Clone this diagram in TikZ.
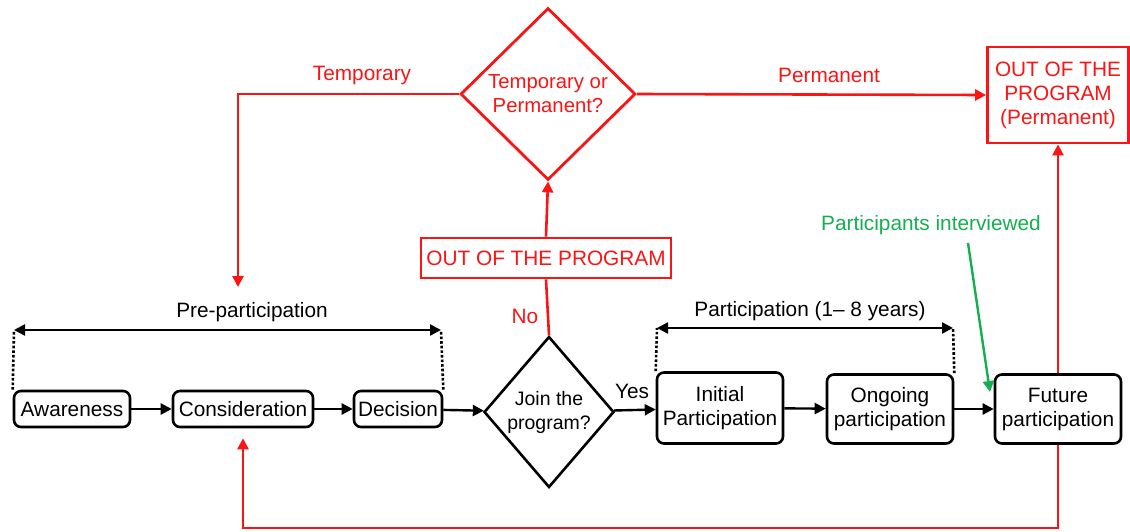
\documentclass[tikz,border=0pt]{standalone}
\usepackage{fontspec}
\setmainfont{Liberation Sans}
\usepackage{xcolor}
\usepackage{tikz}
\usetikzlibrary{arrows.meta,shapes.geometric,calc}
\definecolor{outred}{RGB}{250,20,20}
\definecolor{intgreen}{RGB}{20,175,80}
\tikzset{
  bx/.style  ={rectangle,rounded corners=7pt,draw,line width=2.6pt,inner sep=0pt,align=center,font=\fontsize{20.8}{24}\selectfont},
  dm/.style  ={diamond,draw,line width=2.6pt,inner sep=0pt,align=center,font=\fontsize{19.5}{24}\selectfont},
  rbx/.style ={rectangle,draw=outred,text=outred,line width=2.8pt,inner sep=0pt,align=center,font=\fontsize{20.8}{24}\selectfont},
  rdm/.style ={diamond,draw=outred,text=outred,line width=2.8pt,inner sep=0pt,align=center,font=\fontsize{20.3}{24}\selectfont},
  lbl/.style ={font=\fontsize{20.8}{24}\selectfont,inner sep=0pt},
  rlbl/.style={lbl,text=outred},
  ar/.style  ={-{Triangle[length=11pt,width=11pt]},line width=2.4pt},
  rar/.style ={ar,draw=outred,line width=2.6pt},
  gar/.style ={ar,draw=intgreen,line width=2.4pt},
  span/.style={{Triangle[length=11pt,width=11pt]}-{Triangle[length=11pt,width=11pt]},line width=2.4pt},
  tick/.style={dotted,line width=2.6pt},
}
\begin{document}
\begin{tikzpicture}[x=1pt,y=-1pt]
  \useasboundingbox (0,0) rectangle (1130,531);
  % main row
  \node[bx,minimum width=116pt,minimum height=36pt] (aw) at (72,409){Awareness};
  \node[bx,minimum width=140pt,minimum height=36pt] (con) at (243,409){Consideration};
  \node[bx,minimum width=88pt,minimum height=36pt] (dcs) at (398,409){Decision};
  \node[dm,minimum width=130pt,minimum height=151pt] (join) at (549,412){Join the\\program?};
  \node[bx,minimum width=126pt,minimum height=71pt] (ini) at (720,408){Initial\\Participation};
  \node[bx,minimum width=126pt,minimum height=69pt] (ong) at (890,409){Ongoing\\participation};
  \node[bx,minimum width=126pt,minimum height=69pt] (fut) at (1058,409){Future\\participation};
  \draw[ar] (aw) -- (con);
  \draw[ar] (con) -- (dcs);
  \draw[ar] (dcs) -- (join);
  \draw[ar] (join) -- (ini);
  \draw[ar] (ini) -- (ong);
  \draw[ar] (ong) -- (fut);
  \node[lbl] (yes) at (632,391){Yes};

  % spans
  \coordinate (p1) at (14,330);
  \coordinate (p2) at (441,330);
  \draw[tick] (aw.north west) -- (p1);
  \draw[tick] (dcs.north east) -- (p2);
  \draw[span] (p1) -- (p2);
  \node[lbl] (pre) at (252,312){Pre-participation};
  \coordinate (q1) at (657,328);
  \coordinate (q2) at (953,328);
  \draw[tick] (ini.north west) -- (q1);
  \draw[tick] (ong.north east) -- (q2);
  \draw[span] (q1) -- (q2);
  \node[lbl] (par) at (810,311){Participation (1-- 8 years)};

  % out of the program
  \node[rbx,minimum width=250pt,minimum height=40pt] (out) at (546,258){OUT OF THE PROGRAM};
  \node[rdm,minimum width=175pt,minimum height=172pt] (tmp) at (548,94){Temporary or\\Permanent?};
  \node[rbx,minimum width=141pt,minimum height=96pt] (perm) at (1058,95){OUT OF THE\\PROGRAM\\(Permanent)};
  \draw[outred,line width=2.6pt] (join.north) -- (out.south);
  \node[rlbl] (no) at (525,316){No};
  \draw[rar] (out.north) -- (tmp.south);
  \coordinate (tl) at (238,94);
  \coordinate (te) at (238,287);
  \draw[rar] (tmp.west) -- (tl) -- (te);
  \node[rlbl] (tlab) at (362,75){Temporary};
  \draw[rar] (tmp.east) -- (perm.west);
  \node[rlbl] (plab) at (829,75){Permanent};
  \draw[rar] (fut.north) -- (perm.south);
  \coordinate (lp) at (1058,528);
  \draw[rar,shorten >=10pt] (fut.south) -- (lp) -| (con.south);

  % interviews
  \node[lbl,text=intgreen] (intv) at (931,225){Participants interviewed};
  \coordinate (ie) at (990,392);
  \draw[gar] (968,243) -- (ie);
\end{tikzpicture}
\end{document}
